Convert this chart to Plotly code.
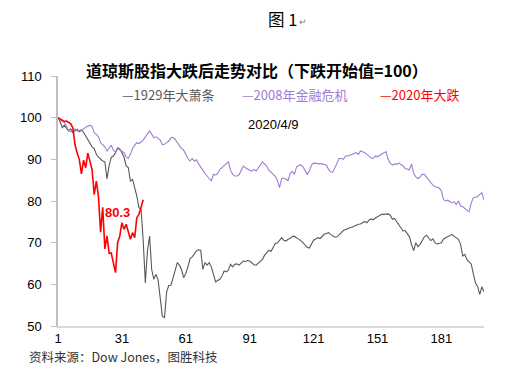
import plotly.graph_objects as go

# ---------------- data ----------------
gray_1929 = [
    100.0, 99.0, 97.6, 98.2, 97.4, 96.8, 97.3, 96.4, 96.9, 97.2,
    96.6, 97.0, 96.5, 95.6, 94.6, 93.6, 93.0, 92.6, 91.2, 90.5,
    90.0, 89.6, 89.4, 85.3, 88.5, 90.5, 90.8, 91.6, 92.8, 92.5,
    91.6, 90.5, 88.4, 88.0, 84.8, 85.2, 83.2, 81.2, 78.4, 78.0,
    70.5, 60.3, 68.0, 71.6, 63.5, 61.2, 62.4, 61.0, 56.7, 52.3,
    52.0, 58.2, 59.7, 59.8, 61.5, 63.6, 65.2, 64.6, 63.5, 61.6,
    62.6, 64.2, 66.2, 66.6, 67.4, 68.0, 68.3, 68.2, 63.6, 65.2,
    64.6, 65.2, 64.2, 62.6, 60.6, 60.9, 61.2, 62.0, 63.2, 63.0,
    63.4, 64.8, 64.2, 64.8, 64.9, 64.6, 65.2, 65.6, 65.5, 65.7,
    65.6, 65.2, 64.7, 64.6, 65.0, 65.6, 66.0, 67.0, 67.6, 68.2,
    67.9, 69.0, 69.8, 69.9, 70.6, 71.2, 70.6, 70.4, 70.8, 71.0,
    71.5, 71.5, 71.2, 70.9, 70.5, 70.0, 69.4, 68.9, 68.7, 69.8,
    70.6, 70.9, 71.2, 71.0, 71.6, 72.0, 72.2, 72.4, 72.0, 71.6,
    71.3, 71.4, 71.8, 72.4, 72.9, 73.2, 73.4, 73.6, 73.7, 74.0,
    74.1, 74.4, 74.5, 74.8, 75.1, 74.8, 75.4, 75.7, 75.5, 75.9,
    76.2, 76.6, 76.8, 76.8, 76.9, 76.9, 76.6, 75.6, 75.8, 75.0,
    74.5, 73.4, 72.8, 72.9, 72.2, 71.4, 69.5, 68.1, 70.0, 69.0,
    69.6, 70.6, 71.4, 71.8, 71.1, 70.5, 70.9, 70.0, 69.7, 69.8,
    70.0, 70.9, 71.2, 71.4, 71.8, 72.0, 71.5, 71.1, 70.8, 69.6,
    66.8, 67.2, 65.9, 65.4, 64.9, 62.5, 60.3, 59.5, 57.6, 59.4,
    58.2,
]

purple_2008 = [
    100.0, 99.6, 99.0, 98.9, 98.0, 97.0, 96.6, 96.9, 97.3, 96.8,
    97.0, 97.2, 97.3, 97.7, 97.9, 98.2, 97.9, 96.4, 96.0, 95.4,
    94.0, 93.4, 93.0, 92.0, 92.8, 93.4, 92.2, 91.8, 92.6, 92.2,
    92.0, 91.6, 90.6, 90.2, 91.2, 92.6, 93.4, 94.0, 93.8, 94.2,
    94.6, 95.4, 96.2, 96.8, 96.0, 95.2, 95.4, 95.0, 94.6, 93.5,
    93.6, 94.0, 94.4, 95.2, 95.3, 94.8, 94.0, 93.3, 92.6, 92.2,
    91.2, 90.2, 89.6, 90.2, 89.6, 89.9, 88.9, 88.0, 87.4, 86.6,
    85.9, 85.2, 84.8, 86.4, 86.2, 86.6, 87.6, 88.0, 88.4, 88.9,
    89.4, 87.4, 86.4, 86.0, 86.0, 86.3, 87.2, 88.4, 88.0, 87.6,
    87.4, 87.2, 87.6, 87.2, 87.8, 88.6, 89.4, 89.0, 88.4, 87.4,
    86.9, 86.6, 85.9, 85.0, 83.2, 85.4, 85.5, 85.2, 84.9, 86.6,
    87.1, 86.4, 88.2, 88.5, 88.7, 88.2, 87.2, 86.4, 87.2, 88.6,
    89.1, 89.0, 89.0, 88.9, 88.9, 88.8, 88.6, 87.6, 87.0, 86.9,
    88.0, 89.2, 90.2, 90.2, 90.0, 90.8, 90.8, 91.0, 91.2, 91.4,
    91.6, 91.2, 92.0, 91.8, 91.6, 91.2, 90.8, 90.3, 90.2, 90.8,
    90.6, 91.0, 91.4, 91.6, 91.8, 90.0, 89.0, 88.6, 88.9, 88.8,
    89.1, 88.8, 88.4, 87.8, 87.6, 87.5, 88.9, 86.6, 85.8, 85.4,
    85.8, 86.4, 86.4, 85.7, 85.0, 84.4, 83.8, 83.4, 83.3, 83.1,
    82.4, 80.3, 80.0, 80.2, 79.9, 79.6, 79.8, 79.2, 80.0, 78.8,
    78.6, 78.2, 77.8, 77.4, 79.5, 80.8, 80.9, 81.1, 81.6, 82.0,
    80.2,
]

red_2020 = [
    100.0, 99.7, 99.4, 99.1, 99.2, 98.8, 98.5, 97.5, 93.5, 91.5,
    90.0, 86.5, 89.8, 88.0, 91.5, 89.5, 87.5, 81.5, 84.8, 81.0,
    72.5, 78.5, 68.5, 71.6, 67.5, 67.5, 65.1, 62.8, 70.0, 71.6,
    74.8, 73.2, 74.4, 72.4, 70.8, 72.4, 71.2, 76.0, 76.8, 78.5,
    80.3,
]

x_ticks = [1, 31, 61, 91, 121, 151, 181]
y_ticks = [50, 60, 70, 80, 90, 100, 110]

names = ["1929年大萧条", "2008年金融危机", "2020年大跌"]
colors = ["#595959", "#A07CD2", "#FF0000"]

fig = go.Figure()
for vals, name, col, w in [
    (gray_1929, names[0], colors[0], 1.1),
    (purple_2008, names[1], colors[1], 1.1),
    (red_2020, names[2], colors[2], 1.6),
]:
    fig.add_trace(go.Scatter(
        x=list(range(1, len(vals) + 1)), y=vals, mode="lines", name=name,
        line=dict(color=col, width=w), showlegend=False,
    ))

FONT = "Liberation Sans, Arial, Noto Sans CJK SC, sans-serif"
CJK = "Noto Sans CJK SC, Liberation Sans, sans-serif"

# page has an 8px body margin; layout expressed in page pixels
OFF = 8
L, R, T, B = 51, 484, 76, 325.7          # plot area in page pixels
W, H = 523 - 2 * OFF, 373 - 2 * OFF      # figure size


def px(xp):
    return (xp - L) / (R - L)


def py(yp):
    return (B - yp) / (B - T)


annotations = [
    dict(text="图 1", x=px(279), y=py(19.5), font=dict(family=CJK, size=16.5, color="#000000")),
    dict(text="↵", x=px(300), y=py(22), font=dict(family=CJK, size=9, color="#7f7f7f")),
    dict(text="<b>道琼斯股指大跌后走势对比（下跌开始值=100）</b>", x=px(253.5), y=py(70),
         font=dict(family=CJK, size=16, color="#000000")),
    dict(text="2020/4/9", x=px(242), y=py(124), xanchor="left",
         font=dict(family=FONT, size=13, color="#000000")),
    dict(text="资料来源：Dow Jones，图胜科技", x=px(19), y=py(356.5), xanchor="left",
         font=dict(family=CJK, size=12.5, color="#333333")),
]
legend_x = [114, 236, 376]
for name, col, lx in zip(names, colors, legend_x):
    annotations.append(dict(text="—" + name, x=px(lx), y=py(94.5), xanchor="left",
                            font=dict(family=CJK, size=13, color=col)))
for a in annotations:
    a.update(xref="paper", yref="paper", showarrow=False)
    a.setdefault("xanchor", "center")
    a.setdefault("yanchor", "middle")

# label of the last 2020 value
annotations.append(dict(
    text=f"<b>{red_2020[-1]}</b>", x=28.8, y=77.2, xref="x", yref="y", showarrow=False,
    font=dict(family=FONT, size=13, color="#FF0000"), xanchor="center", yanchor="middle",
))

fig.update_layout(
    width=W, height=H,
    margin=dict(l=L - OFF, r=W - (R - OFF), t=T - OFF, b=H - (B - OFF), pad=0),
    paper_bgcolor="white", plot_bgcolor="white",
    annotations=annotations,
    xaxis=dict(range=[1, 201], tickvals=x_ticks, ticktext=[str(v) for v in x_ticks],
               showgrid=False, zeroline=False, showline=True, linecolor="#D9D9D9",
               linewidth=1.5, ticks="", tickfont=dict(family=FONT, size=13, color="#000000")),
    yaxis=dict(range=[50, 110], tickvals=y_ticks, ticktext=[str(v) for v in y_ticks],
               showgrid=False, zeroline=False, showline=True, linecolor="#BFBFBF",
               linewidth=1.5, ticks="outside", ticklen=5, tickcolor="#BFBFBF",
               ticklabelstandoff=7,
               tickfont=dict(family=FONT, size=13, color="#000000")),
)

fig.write_html("out.html")
